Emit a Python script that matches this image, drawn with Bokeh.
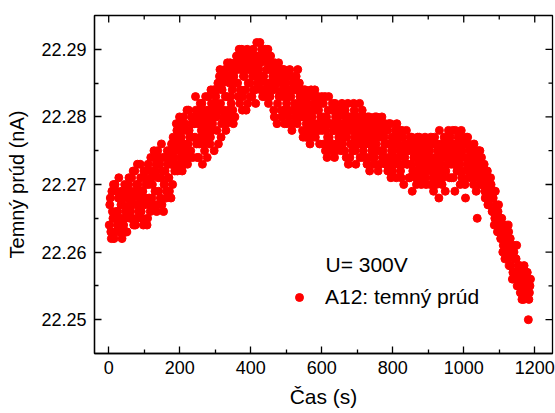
import math
from bokeh.plotting import figure
from bokeh.models import (FixedTicker, PrintfTickFormatter, Legend,
                          LegendItem, Label, Range1d)
from bokeh.embed import file_html
from bokeh.resources import INLINE

# Dark current, stored as offset above 22.250 nA in pA (0.001 nA steps).
# Pass A: samples at t = 3, 6, 9 ... s ; pass B: samples at t = 1.5, 4.5 ... s
# grouped per minute.
base_nA = 22.250
a_00 = [17, 13, 19, 15, 12, 20, 16, 14, 18, 13, 15, 19, 17, 14, 20, 16, 13, 18, 21, 15]
a_01 = [19, 15, 22, 17, 14, 20, 23, 16, 18, 21, 15, 19, 22, 17, 20, 14, 23, 18, 16, 21]
a_02 = [20, 24, 17, 22, 16, 25, 19, 23, 21, 17, 24, 20, 22, 18, 25, 21, 19, 23, 26, 20]
a_03 = [24, 22, 26, 28, 23, 29, 25, 27, 22, 30, 26, 24, 28, 23, 31, 27, 25, 29, 24, 30]
a_04 = [27, 31, 24, 29, 26, 32, 28, 23, 30, 25, 33, 27, 29, 31, 26, 34, 28, 30, 25, 32]
a_05 = [30, 34, 26, 36, 32, 29, 35, 31, 37, 28, 33, 36, 30, 38, 32, 34, 29, 37, 35, 39]
a_06 = [35, 39, 32, 37, 40, 33, 36, 38, 31, 40, 35, 37, 33, 39, 36, 34, 38, 32, 41, 36]
a_07 = [37, 41, 34, 39, 36, 33, 40, 35, 38, 32, 37, 39, 34, 36, 31, 38, 35, 29, 37, 33]
a_08 = [35, 31, 37, 33, 29, 36, 32, 34, 30, 37, 33, 28, 35, 31, 34, 36, 29, 32, 35, 30]
a_09 = [32, 28, 34, 30, 27, 33, 29, 31, 26, 34, 30, 28, 32, 27, 33, 29, 31, 26, 30, 33]
a_10 = [30, 26, 33, 28, 24, 31, 27, 29, 25, 32, 28, 24, 30, 26, 31, 27, 29, 25, 32, 28]
a_11 = [27, 31, 24, 29, 23, 30, 26, 28, 25, 32, 27, 23, 29, 26, 30, 24, 28, 31, 25, 27]
a_12 = [28, 24, 30, 26, 22, 29, 25, 27, 23, 30, 26, 28, 22, 29, 25, 27, 24, 29, 26, 23]
a_13 = [26, 22, 29, 24, 21, 27, 25, 23, 28, 21, 26, 24, 28, 22, 25, 27, 20, 24, 26, 23]
a_14 = [25, 21, 27, 23, 19, 26, 22, 24, 20, 27, 23, 25, 21, 26, 24, 22, 27, 20, 25, 23]
a_15 = [24, 20, 26, 22, 19, 27, 23, 21, 25, 18, 24, 26, 20, 22, 27, 19, 25, 23, 28, 21]
a_16 = [25, 21, 28, 23, 19, 26, 22, 27, 24, 20, 28, 25, 22, 26, 18, 24, 27, 21, 25, 23]
a_17 = [24, 21, 26, 22, 19, 15, 25, 23, 20, 24, 21, 22, 19, 20, 21, 17, 19, 18, 20, 16]
a_18 = [18, 14, 19, 16, 13, 17, 15, 12, 15, 10, 14, 9, 13, 11, 14, 8, 12, 10, 6, 11]
a_19 = [9, 6, 11, 7, 5, 8, 4, 3, 6, 8, 4, 5, 7, 0, 4, 6]

b_00 = [14, 18, 12, 16, 20, 15, 13, 19, 16, 21, 14, 17, 12, 18, 15, 19, 13, 16, 20, 17]
b_01 = [16, 21, 18, 14, 22, 19, 15, 20, 17, 23, 16, 19, 14, 21, 18, 22, 15, 20, 17, 24]
b_02 = [18, 22, 25, 19, 23, 17, 21, 24, 18, 26, 22, 16, 20, 24, 19, 23, 21, 25, 18, 24]
b_03 = [27, 23, 25, 29, 22, 27, 30, 24, 26, 28, 23, 29, 25, 31, 26, 28, 24, 30, 27, 29]
b_04 = [29, 33, 26, 30, 24, 31, 27, 32, 29, 26, 31, 28, 24, 33, 30, 27, 32, 29, 34, 31]
b_05 = [33, 28, 35, 31, 37, 27, 34, 30, 36, 33, 29, 38, 31, 35, 33, 37, 31, 36, 30, 38]
b_06 = [37, 33, 40, 34, 38, 31, 36, 39, 34, 37, 32, 39, 35, 38, 33, 40, 37, 34, 39, 35]
b_07 = [39, 35, 38, 40, 33, 36, 39, 34, 37, 40, 35, 33, 38, 35, 37, 30, 34, 36, 32, 38]
b_08 = [33, 36, 30, 34, 37, 31, 35, 29, 33, 36, 31, 34, 29, 36, 32, 30, 34, 37, 31, 33]
b_09 = [30, 33, 27, 31, 34, 29, 32, 28, 30, 33, 27, 31, 29, 34, 28, 31, 33, 28, 32, 29]
b_10 = [28, 32, 29, 25, 30, 27, 33, 26, 29, 31, 26, 28, 32, 25, 29, 30, 26, 28, 31, 26]
b_11 = [29, 25, 30, 27, 32, 28, 24, 30, 26, 29, 31, 25, 28, 30, 27, 32, 26, 29, 24, 30]
b_12 = [26, 29, 23, 27, 30, 24, 28, 26, 29, 24, 27, 30, 25, 27, 23, 28, 30, 25, 27, 29]
b_13 = [24, 28, 23, 26, 29, 25, 22, 27, 24, 26, 29, 23, 27, 25, 21, 28, 23, 26, 25, 28]
b_14 = [23, 26, 21, 25, 27, 22, 24, 26, 21, 25, 22, 27, 24, 20, 26, 23, 25, 21, 24, 26]
b_15 = [22, 25, 27, 23, 21, 26, 24, 20, 26, 22, 28, 23, 25, 21, 24, 26, 22, 27, 24, 26]
b_16 = [27, 23, 26, 21, 24, 28, 25, 22, 26, 23, 27, 21, 24, 26, 20, 27, 23, 26, 22, 24]
b_17 = [22, 25, 20, 23, 24, 21, 24, 22, 25, 23, 20, 21, 23, 18, 20, 22, 17, 19, 21, 18]
b_18 = [16, 19, 15, 17, 14, 16, 13, 15, 12, 14, 11, 13, 10, 12, 9, 13, 11, 8, 10, 7]
b_19 = [10, 7, 9, 5, 8, 6, 4, 7, 5, 3, 6, 4, 7, 5, 3, 5]

pass_a = (a_00 + a_01 + a_02 + a_03 + a_04 + a_05 + a_06 + a_07 + a_08 + a_09 +
          a_10 + a_11 + a_12 + a_13 + a_14 + a_15 + a_16 + a_17 + a_18 + a_19)
pass_b = (b_00 + b_01 + b_02 + b_03 + b_04 + b_05 + b_06 + b_07 + b_08 + b_09 +
          b_10 + b_11 + b_12 + b_13 + b_14 + b_15 + b_16 + b_17 + b_18 + b_19)
time_a = [3.0 * (i + 1) for i in range(len(pass_a))]
time_b = [3.0 * (i + 1) - 1.5 for i in range(len(pass_b))]

time_s = time_a + time_b
current_nA = [round(base_nA + v / 1000.0, 3) for v in pass_a + pass_b]

x_ticks = [0, 200, 400, 600, 800, 1000, 1200]
x_minor = [100, 300, 500, 700, 900, 1100]
y_ticks = [22.25, 22.26, 22.27, 22.28, 22.29]
y_minor = [22.255, 22.265, 22.275, 22.285]
x_lo, x_hi = -40, 1250
y_lo, y_hi = 22.245, 22.295

FONT = "Liberation Sans"
RED = "#FF0000"
LW = 1.3

p = figure(width=555, height=413, output_backend="svg", toolbar_location=None,
           x_range=Range1d(x_lo, x_hi), y_range=Range1d(y_lo, y_hi),
           min_border_left=94, min_border_right=3, min_border_top=15,
           min_border_bottom=60)
p.xgrid.visible = False
p.ygrid.visible = False
p.outline_line_color = "black"
p.outline_line_width = LW
p.background_fill_color = "white"
p.border_fill_color = "white"

r = p.scatter(time_s, current_nA, size=8, color=RED, line_color=RED)

# mirrored inward ticks on the top and right edges of the frame
p.ray(x=x_ticks, y=[y_hi] * len(x_ticks), length=7, length_units="screen",
      angle=-math.pi / 2, line_color="black", line_width=LW)
p.ray(x=x_minor, y=[y_hi] * len(x_minor), length=4, length_units="screen",
      angle=-math.pi / 2, line_color="black", line_width=LW)
p.ray(x=[x_hi] * len(y_ticks), y=y_ticks, length=7, length_units="screen",
      angle=math.pi, line_color="black", line_width=LW)
p.ray(x=[x_hi] * len(y_minor), y=y_minor, length=4, length_units="screen",
      angle=math.pi, line_color="black", line_width=LW)

for ax in (p.xaxis[0], p.yaxis[0]):
    ax.major_tick_in = 7
    ax.major_tick_out = 0
    ax.minor_tick_in = 4
    ax.minor_tick_out = 0
    ax.axis_line_color = "black"
    ax.axis_line_width = LW
    ax.major_tick_line_color = "black"
    ax.major_tick_line_width = LW
    ax.minor_tick_line_color = "black"
    ax.minor_tick_line_width = LW
    ax.major_label_text_font = FONT
    ax.major_label_text_font_size = "18px"
    ax.major_label_text_color = "black"
    ax.axis_label_text_font = FONT
    ax.axis_label_text_font_style = "normal"
    ax.axis_label_text_color = "black"

xax = p.xaxis[0]
yax = p.yaxis[0]
xax.ticker = FixedTicker(ticks=x_ticks, minor_ticks=x_minor)
yax.ticker = FixedTicker(ticks=y_ticks, minor_ticks=y_minor)
yax.formatter = PrintfTickFormatter(format="%.2f")
xax.axis_label = "Čas (s)"
xax.axis_label_text_font_size = "21px"
xax.major_label_standoff = 7
xax.axis_label_standoff = 8
yax.axis_label = "Temný prúd (nA)"
yax.axis_label_text_font_size = "20px"
yax.major_label_standoff = 8
yax.axis_label_standoff = 10

legend = Legend(items=[LegendItem(label="A12: temný prúd", renderers=[r])],
                location=(195, 44), border_line_alpha=0, background_fill_alpha=0,
                padding=0, margin=0, spacing=0, glyph_width=20, glyph_height=20,
                label_standoff=16, label_text_font=FONT,
                label_text_font_size="21px", label_text_color="black")
p.add_layout(legend)

p.add_layout(Label(x=231, y=89, x_units="screen", y_units="screen",
                   text="U= 300V", text_font=FONT, text_font_size="21px",
                   text_color="black", text_baseline="alphabetic"))

open("out.html", "w").write(file_html(p, INLINE))
